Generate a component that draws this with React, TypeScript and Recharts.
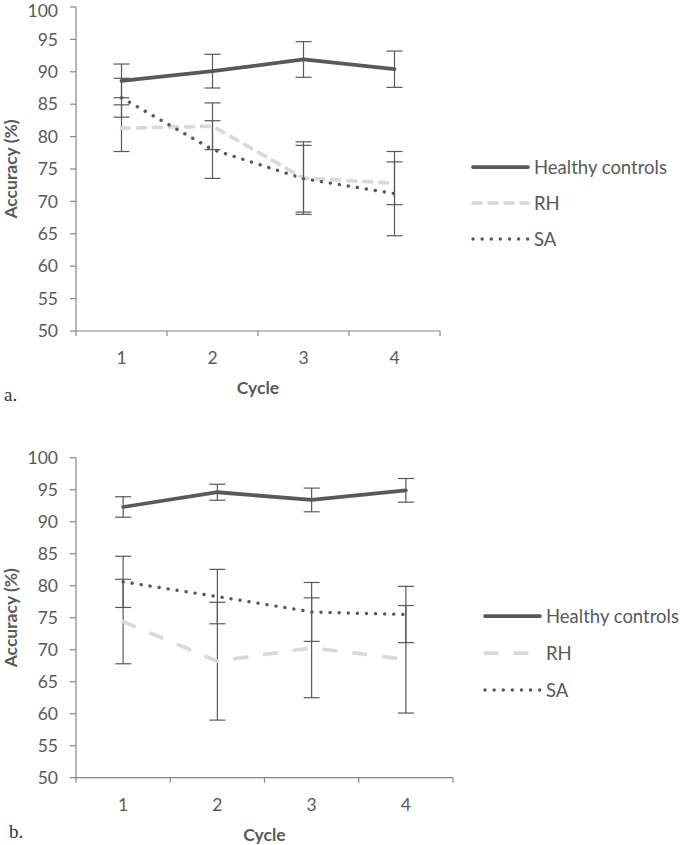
import { LineChart, Line, XAxis, YAxis, ErrorBar, Legend } from "recharts";

const cycles = [1, 2, 3, 4];
const yTicks = [50, 55, 60, 65, 70, 75, 80, 85, 90, 95, 100];
// integers carry the labels, halves carry the between-category tick marks
const xTicks = [0.5, 1, 1.5, 2, 2.5, 3, 3.5, 4, 4.5];
const seriesNames = ["Healthy controls", "RH", "SA"];

// panel a
const healthyA = [88.6, 90.1, 91.9, 90.4];
const healthyErrA = [2.6, 2.6, 2.75, 2.8];
const rhA = [81.3, 81.6, 73.6, 72.8];
const rhErrA = [3.6, 3.6, 5.6, 3.3];
const saA = [86.0, 78.0, 73.5, 71.2];
const saErrA = [3.0, 4.45, 5.15, 6.5];

// panel b
const healthyB = [92.3, 94.6, 93.4, 94.9];
const healthyErrB = [1.6, 1.25, 1.85, 1.85];
const rhB = [74.4, 68.2, 70.3, 68.5];
const rhErrB = [6.6, 9.2, 7.8, 8.4];
const saB = [80.6, 78.3, 75.9, 75.5];
const saErrB = [4.0, 4.25, 4.6, 4.4];

const FONT = "Lato, 'Open Sans', sans-serif";
const FS = 17.5;
const LEGEND_FS = 18.5;
const TEXT = "#595959";
const AXIS = "#868686";
const DARK = "#595959";
const LIGHT = "#d9d9d9";

function buildRows(
  hc: number[], hcErr: number[], rh: number[], rhErr: number[], sa: number[], saErr: number[]
) {
  return cycles.map((c, i) => ({
    cycle: c,
    hc: hc[i], hcErr: hcErr[i],
    rh: rh[i], rhErr: rhErr[i],
    sa: sa[i], saErr: saErr[i],
  }));
}

function CycleTick(props: any) {
  const { x, y, payload } = props;
  const v = payload.value;
  if (Number.isInteger(v)) {
    return (
      <text x={x} y={y + 26.5} textAnchor="middle" dominantBaseline="central"
        fill={TEXT} fontFamily={FONT} fontSize={FS}>
        {v}
      </text>
    );
  }
  return <line x1={x} x2={x} y1={y} y2={y + 5} stroke={AXIS} strokeWidth={1.2} />;
}

interface PanelProps {
  rows: ReturnType<typeof buildRows>;
  top: number;
  height: number;
  margin: { top: number; right: number; bottom: number; left: number };
  rhDash: string;
  legendLeft: number;
  legendTop: number;
  legendGap: number;
}

function Panel({ rows, top, height, margin, rhDash, legendLeft, legendTop, legendGap }: PanelProps) {
  const styles = [
    { stroke: DARK, dash: undefined as string | undefined, width: 3.75 },
    { stroke: LIGHT, dash: rhDash, width: 3.75 },
    { stroke: DARK, dash: "0.1 9", width: 3.4 },
  ];

  const renderLegend = () => (
    <svg width={210} height={legendGap * 3 + 10}>
      {seriesNames.map((name, i) => {
        const cy = 17 + i * legendGap;
        return (
          <g key={name}>
            <line x1={3} x2={58} y1={cy} y2={cy} stroke={styles[i].stroke}
              strokeWidth={styles[i].width} strokeDasharray={styles[i].dash} strokeLinecap="round" />
            <text x={64} y={cy} dominantBaseline="central" fill={TEXT}
              fontFamily={FONT} fontSize={LEGEND_FS}>{name}</text>
          </g>
        );
      })}
    </svg>
  );

  return (
    <div style={{ position: "absolute", left: 0, top }}>
      <LineChart width={680} height={height} data={rows} margin={margin}>
        <XAxis
          dataKey="cycle"
          type="number"
          domain={[0.5, 4.5]}
          ticks={xTicks}
          interval={0}
          tickLine={false}
          tickSize={0}
          tickMargin={0}
          height={66}
          tick={<CycleTick />}
          axisLine={{ stroke: AXIS, strokeWidth: 1.2 }}
          label={{
            value: "Cycle", position: "insideBottom", offset: 3,
            fill: TEXT, fontFamily: FONT, fontSize: FS, fontWeight: 700,
          }}
        />
        <YAxis
          domain={[50, 100]}
          ticks={yTicks}
          width={76}
          tickSize={6}
          tickMargin={12}
          tickLine={{ stroke: AXIS, strokeWidth: 1.2 }}
          axisLine={{ stroke: AXIS, strokeWidth: 1.2 }}
          tick={{ fill: TEXT, fontFamily: FONT, fontSize: FS }}
          label={{
            value: "Accuracy (%)", angle: -90, position: "insideLeft", offset: 11,
            fill: TEXT, fontFamily: FONT, fontSize: FS, fontWeight: 700,
            style: { textAnchor: "middle" },
          }}
        />
        <Legend
          layout="vertical"
          align="center"
          verticalAlign="middle"
          content={renderLegend}
          wrapperStyle={{ left: legendLeft, top: legendTop, width: 210 }}
        />
        <Line dataKey="hc" name={seriesNames[0]} stroke={styles[0].stroke} strokeWidth={styles[0].width}
          strokeLinecap="round" dot={false} activeDot={false} isAnimationActive={false}>
          <ErrorBar dataKey="hcErr" direction="y" width={8} stroke={DARK} strokeWidth={1.2} isAnimationActive={false} />
        </Line>
        <Line dataKey="rh" name={seriesNames[1]} stroke={styles[1].stroke} strokeWidth={styles[1].width}
          strokeDasharray={styles[1].dash} strokeLinecap="round" dot={false} activeDot={false} isAnimationActive={false}>
          <ErrorBar dataKey="rhErr" direction="y" width={8} stroke={DARK} strokeWidth={1.2} isAnimationActive={false} />
        </Line>
        <Line dataKey="sa" name={seriesNames[2]} stroke={styles[2].stroke} strokeWidth={styles[2].width}
          strokeDasharray={styles[2].dash} strokeLinecap="round" dot={false} activeDot={false} isAnimationActive={false}>
          <ErrorBar dataKey="saErr" direction="y" width={8} stroke={DARK} strokeWidth={1.2} isAnimationActive={false} />
        </Line>
      </LineChart>
    </div>
  );
}

export default function App() {
  const rowsA = buildRows(healthyA, healthyErrA, rhA, rhErrA, saA, saErrA);
  const rowsB = buildRows(healthyB, healthyErrB, rhB, rhErrB, saB, saErrB);
  const tag = {
    position: "absolute" as const,
    fontFamily: "'Liberation Serif', serif",
    fontSize: 19,
    color: "#333",
  };

  return (
    <div style={{ position: "absolute", left: 0, top: 0, width: 680, height: 845, background: "#fff" }}>
      <Panel
        rows={rowsA}
        top={0}
        height={398}
        margin={{ top: 7, right: 240, bottom: 1, left: 0 }}
        rhDash="8 8"
        legendLeft={470}
        legendTop={150}
        legendGap={36}
      />
      <Panel
        rows={rowsB}
        top={440}
        height={405}
        margin={{ top: 17.7, right: 227, bottom: 1.3, left: 0 }}
        rhDash="12 18"
        legendLeft={482}
        legendTop={158.7}
        legendGap={37}
      />
      <div style={{ ...tag, left: 4, top: 384 }}>a.</div>
      <div style={{ ...tag, left: 9, top: 821 }}>b.</div>
    </div>
  );
}
